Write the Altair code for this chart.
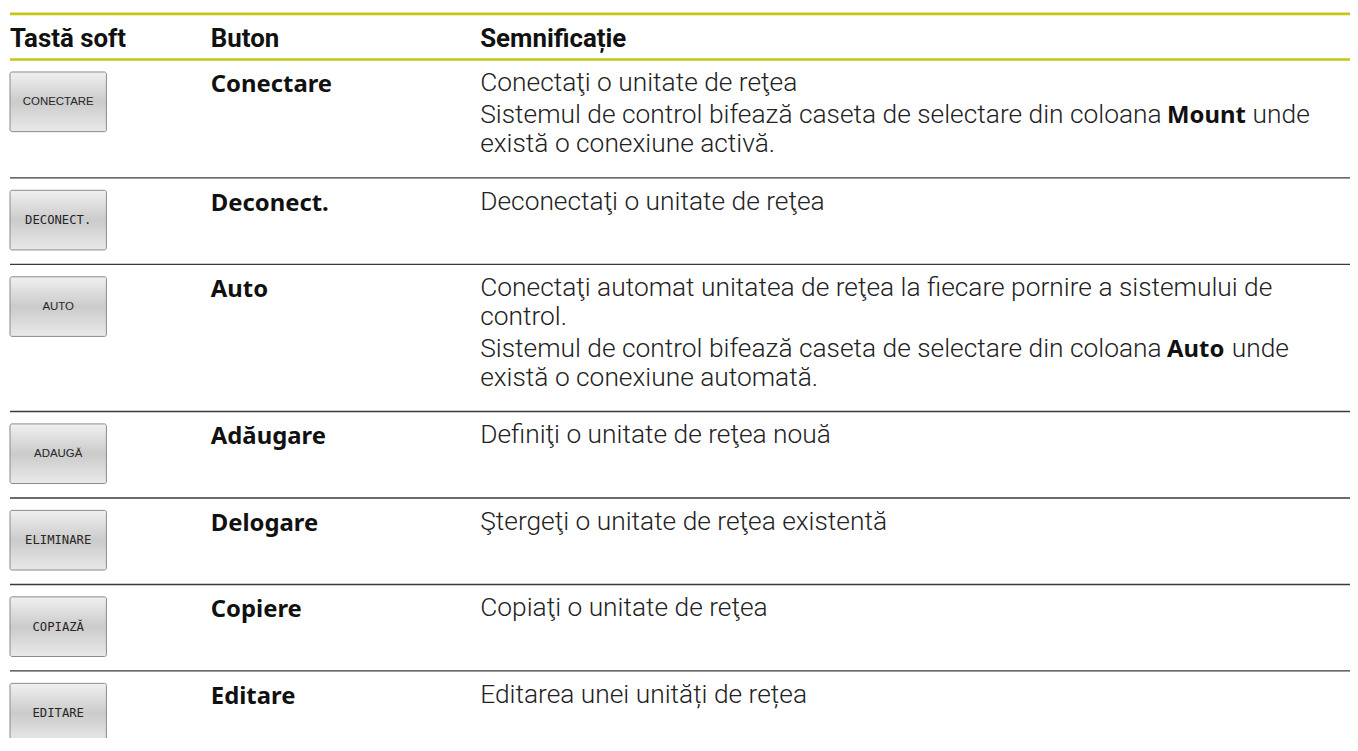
import altair as alt
import pandas as pd

# ---------------- content ----------------
headers = ["Tastă soft", "Buton", "Semnificație"]
softkeys = ["CONECTARE", "DECONECT.", "AUTO", "ADAUGĂ", "ELIMINARE", "COPIAZĂ", "EDITARE"]
mono_softkeys = ["DECONECT.", "ELIMINARE", "COPIAZĂ", "EDITARE"]
buttons = ["Conectare", "Deconect.", "Auto", "Adăugare", "Delogare", "Copiere", "Editare"]
# paragraphs -> lines ; **word** = inline bold
descriptions = [
    [["Conectaţi o unitate de reţea"],
     ["Sistemul de control bifează caseta de selectare din coloana **Mount** unde",
      "există o conexiune activă."]],
    [["Deconectaţi o unitate de reţea"]],
    [["Conectaţi automat unitatea de reţea la fiecare pornire a sistemului de",
      "control."],
     ["Sistemul de control bifează caseta de selectare din coloana **Auto** unde",
      "există o conexiune automată."]],
    [["Definiţi o unitate de reţea nouă"]],
    [["Ştergeţi o unitate de reţea existentă"]],
    [["Copiaţi o unitate de reţea"]],
    [["Editarea unei unități de rețea"]],
]

# ---------------- layout / style ----------------
W, H = 1350, 730          # chart size (page offset 8px)
ORIGIN = 8                # reference pixel at chart's top-left
LEFT, RIGHT = 10, 1358
COL_X = [10, 212, 483]
TOP_RULE_Y = 11.7
HEADER_BASE = 45
HEADER_RULE_Y = 57.7
ROW_MIN_H = 87
FIRST_BASE = 32
NAME_BASE = 33
LINE_H = 29
PARA_GAP = 3
BOTTOM_PAD = 26
BTN_X0, BTN_X1 = 10, 107
BTN_TOP, BTN_H = 12.5, 60
DESC_SIZE = 26.5
BOLD_OFFSET = 691
BOLD_WORD_W = {"Mount": 79, "Auto": 58}
SPACE_W = 7
GREEN = "#c2c812"

rules, rects, texts = [], [], []
rules.append(dict(y=TOP_RULE_Y, x=LEFT, x2=RIGHT, kind="green"))
rules.append(dict(y=HEADER_RULE_Y, x=LEFT, x2=RIGHT, kind="green"))
for cx, h in zip(COL_X, headers):
    texts.append(dict(x=cx, y=HEADER_BASE, text=h, kind="header"))

top = HEADER_RULE_Y
for i, (sk, name, desc) in enumerate(zip(softkeys, buttons, descriptions)):
    lines = []
    yb = top + FIRST_BASE
    for pi, para in enumerate(desc):
        if pi > 0:
            yb += PARA_GAP
        for line in para:
            lines.append((yb, line))
            yb += LINE_H
    n = len(lines)
    h = max(ROW_MIN_H, FIRST_BASE + (n - 1) * LINE_H + (len(desc) - 1) * PARA_GAP + BOTTOM_PAD)
    # button
    rects.append(dict(x=BTN_X0, x2=BTN_X1, y=top + BTN_TOP, y2=top + BTN_TOP + BTN_H))
    texts.append(dict(x=(BTN_X0 + BTN_X1) / 2, y=top + BTN_TOP + BTN_H / 2, text=sk,
                      kind="keymono" if sk in mono_softkeys else "keysans"))
    texts.append(dict(x=COL_X[1], y=top + NAME_BASE, text=name, kind="name"))
    for yb, line in lines:
        if "**" in line:
            pre, word, post = line.split("**")
            texts.append(dict(x=COL_X[2], y=yb, text=pre.rstrip(), kind="desc"))
            texts.append(dict(x=COL_X[2] + BOLD_OFFSET, y=yb, text=word, kind="inline"))
            texts.append(dict(x=COL_X[2] + BOLD_OFFSET + BOLD_WORD_W[word] + SPACE_W, y=yb,
                              text=post.strip(), kind="desc"))
        else:
            texts.append(dict(x=COL_X[2], y=yb, text=line, kind="desc"))
    top += h
    if i < len(softkeys) - 1:
        rules.append(dict(y=top, x=LEFT, x2=RIGHT, kind="gray"))

rules_df = pd.DataFrame(rules)
rects_df = pd.DataFrame(rects)
texts_df = pd.DataFrame(texts)

xs = alt.Scale(domain=[ORIGIN, ORIGIN + W], nice=False, zero=False)
ys = alt.Scale(domain=[ORIGIN, ORIGIN + H], nice=False, zero=False, reverse=True)
X = alt.X("x:Q", scale=xs, axis=None)
Y = alt.Y("y:Q", scale=ys, axis=None)

green = alt.Chart(rules_df[rules_df.kind == "green"]).mark_rule(
    color=GREEN, strokeWidth=2.6).encode(x=X, x2="x2:Q", y=Y)
gray = alt.Chart(rules_df[rules_df.kind == "gray"]).mark_rule(
    color="#3a3a3a", strokeWidth=1.4).encode(x=X, x2="x2:Q", y=Y)

grad = alt.Gradient(
    gradient="linear", x1=0, x2=0, y1=0, y2=1,
    stops=[alt.GradientStop(color="#f0f0f0", offset=0),
           alt.GradientStop(color="#cbcbcb", offset=0.5),
           alt.GradientStop(color="#e9e9e9", offset=1)])
btn = alt.Chart(rects_df).mark_rect(
    fill=grad, stroke="#8a8a8a", strokeWidth=1, cornerRadius=2).encode(
    x=X, x2="x2:Q", y=Y, y2="y2:Q")


def text_layer(kind, **kw):
    return alt.Chart(texts_df[texts_df.kind == kind]).mark_text(**kw).encode(
        x=X, y=Y, text="text:N")


layers = [
    green, gray, btn,
    text_layer("header", align="left", baseline="alphabetic", font="Roboto",
               fontSize=26, fontWeight="bold", color="#111111"),
    text_layer("keysans", align="center", baseline="middle", font="Liberation Sans",
               fontSize=11.5, color="#262626"),
    text_layer("keymono", align="center", baseline="middle", font="DejaVu Sans Mono",
               fontSize=12.3, color="#262626"),
    text_layer("name", align="left", baseline="alphabetic", font="Noto Sans",
               fontSize=24, fontWeight="bold", color="#111111"),
    text_layer("desc", align="left", baseline="alphabetic", font="Roboto",
               fontSize=DESC_SIZE, fontWeight=300, color="#222222"),
    text_layer("inline", align="left", baseline="alphabetic", font="Noto Sans",
               fontSize=24, fontWeight="bold", color="#111111"),
]

chart = alt.layer(*layers).properties(
    width=W, height=H, padding=0,
    autosize=alt.AutoSizeParams(type="none"),
    background="white",
).configure_view(stroke=None)

chart.save("out.html", embed_options={"renderer": "svg", "actions": False})
